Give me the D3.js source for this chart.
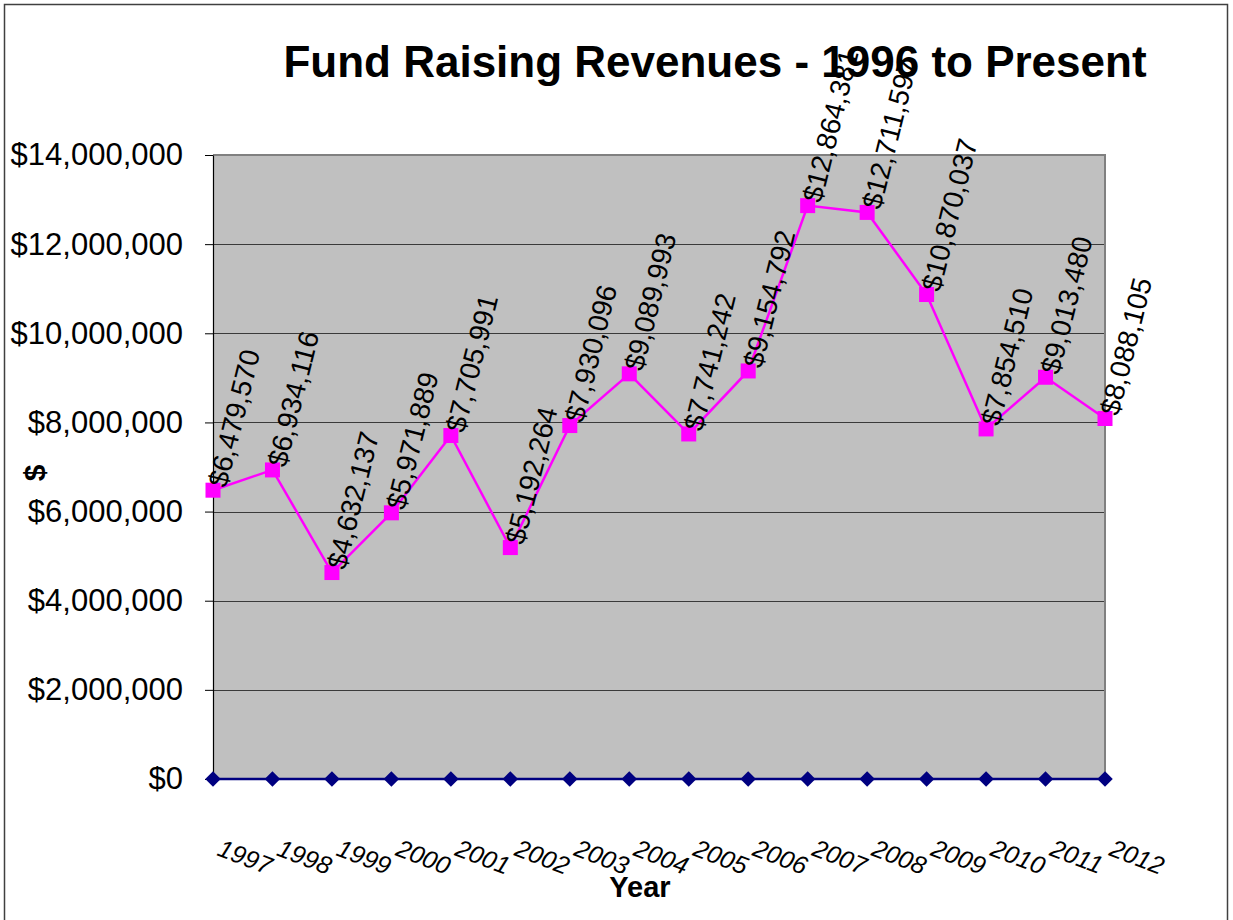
<!DOCTYPE html>
<html lang="en">
<head>
    <meta charset="UTF-8">
    <title>Fund Raising Revenues - 1996 to Present</title>
    <script src="https://d3js.org/d3.v7.min.js"></script>
    <style>
        body { margin: 0; background: #fff; font-family: "Liberation Sans", Arial, sans-serif; }
        svg { display: block; }
    </style>
</head>
<body>
    <svg width="1233" height="920"></svg>

    <script>
        // data
        const years = ["1997", "1998", "1999", "2000", "2001", "2002", "2003", "2004",
                       "2005", "2006", "2007", "2008", "2009", "2010", "2011", "2012"];
        const revenue = [6479570, 6934116, 4632137, 5971889, 7705991, 5192264, 7930096, 9089993,
                         7741242, 9154792, 12864381, 12711597, 10870037, 7854510, 9013480, 8088105];
        const baseline = [0, 0, 0, 0, 0, 0, 0, 0, 0, 0, 0, 0, 0, 0, 0, 0];
        const yTicks = [0, 2000000, 4000000, 6000000, 8000000, 10000000, 12000000, 14000000];

        const svg = d3.select("svg");
        const plot = { left: 213, top: 155, right: 1105, bottom: 779 };

        // outer chart border
        svg.append("rect")
            .attr("x", 4.5).attr("y", 4.5)
            .attr("width", 1223).attr("height", 930)
            .attr("fill", "none").attr("stroke", "#404040").attr("stroke-width", 1.5);

        const x = d3.scalePoint().domain(years).range([plot.left, plot.right]);
        const y = d3.scaleLinear().domain([0, 14000000]).range([plot.bottom, plot.top]);

        // plot background
        svg.append("rect")
            .attr("x", plot.left).attr("y", plot.top)
            .attr("width", plot.right - plot.left).attr("height", plot.bottom - plot.top)
            .attr("fill", "#c0c0c0");

        // gridlines
        svg.append("g").selectAll("line").data(yTicks.slice(1)).enter().append("line")
            .attr("x1", plot.left).attr("x2", plot.right)
            .attr("y1", d => Math.round(y(d)) + 0.5).attr("y2", d => Math.round(y(d)) + 0.5)
            .attr("stroke", "#3a3a3a").attr("stroke-width", 1);

        // plot border top / right
        svg.append("path")
            .attr("d", `M${plot.left},${plot.top}H${plot.right}V${plot.bottom}`)
            .attr("fill", "none").attr("stroke", "#808080").attr("stroke-width", 2);

        // y axis
        const yAxis = svg.append("g")
            .attr("transform", `translate(${plot.left},0)`)
            .call(d3.axisLeft(y).tickValues(yTicks).tickFormat(d3.format("$,")).tickSize(8).tickSizeOuter(0).tickPadding(22));
        yAxis.select(".domain").attr("stroke", "#000").attr("stroke-width", 1.2);
        yAxis.selectAll(".tick line").attr("stroke", "#000");
        yAxis.selectAll(".tick text")
            .attr("font-family", "Liberation Sans, Arial, sans-serif")
            .attr("font-size", 31).attr("fill", "#000");

        // y title
        svg.append("text")
            .attr("transform", "translate(45,473) rotate(-90)")
            .attr("text-anchor", "middle")
            .attr("font-size", 30).attr("font-weight", "bold")
            .text("$");

        // baseline series (navy, diamonds)
        const line0 = d3.line().x((d, i) => x(years[i])).y(d => y(d));
        svg.append("path").datum(baseline)
            .attr("d", line0)
            .attr("fill", "none").attr("stroke", "#000080").attr("stroke-width", 2.5);
        svg.append("g").selectAll("path").data(baseline).enter().append("path")
            .attr("transform", (d, i) => `translate(${x(years[i])},${y(d)}) rotate(45)`)
            .attr("d", d3.symbol().type(d3.symbolSquare).size(120))
            .attr("fill", "#000080");

        // revenue series (magenta, squares)
        svg.append("path").datum(revenue)
            .attr("d", line0)
            .attr("fill", "none").attr("stroke", "#ff00ff").attr("stroke-width", 2.5);
        svg.append("g").selectAll("rect").data(revenue).enter().append("rect")
            .attr("x", (d, i) => x(years[i]) - 7.5)
            .attr("y", d => y(d) - 7.5)
            .attr("width", 15).attr("height", 15)
            .attr("fill", "#ff00ff");

        // data labels
        svg.append("g").selectAll("text").data(revenue).enter().append("text")
            .attr("transform", (d, i) => `translate(${x(years[i])},${y(d)}) rotate(-76)`)
            .attr("x", 5).attr("dy", "0.45em")
            .attr("font-size", 28).attr("fill", "#000")
            .text(d => d3.format("$,")(d));

        // x tick labels
        svg.append("g").selectAll("text").data(years).enter().append("text")
            .attr("transform", d => `translate(${x(d) + 3},${plot.bottom + 76}) rotate(21)`)
            .attr("font-size", 25).attr("font-style", "italic").attr("fill", "#000")
            .text(d => d);

        // x title
        svg.append("text")
            .attr("x", 640).attr("y", 897)
            .attr("text-anchor", "middle")
            .attr("font-size", 29).attr("font-weight", "bold")
            .text("Year");

        // chart title
        svg.append("text")
            .attr("x", 715).attr("y", 77)
            .attr("text-anchor", "middle")
            .attr("font-size", 44).attr("font-weight", "bold")
            .text("Fund Raising Revenues - 1996 to Present");
    </script>
</body>
</html>
